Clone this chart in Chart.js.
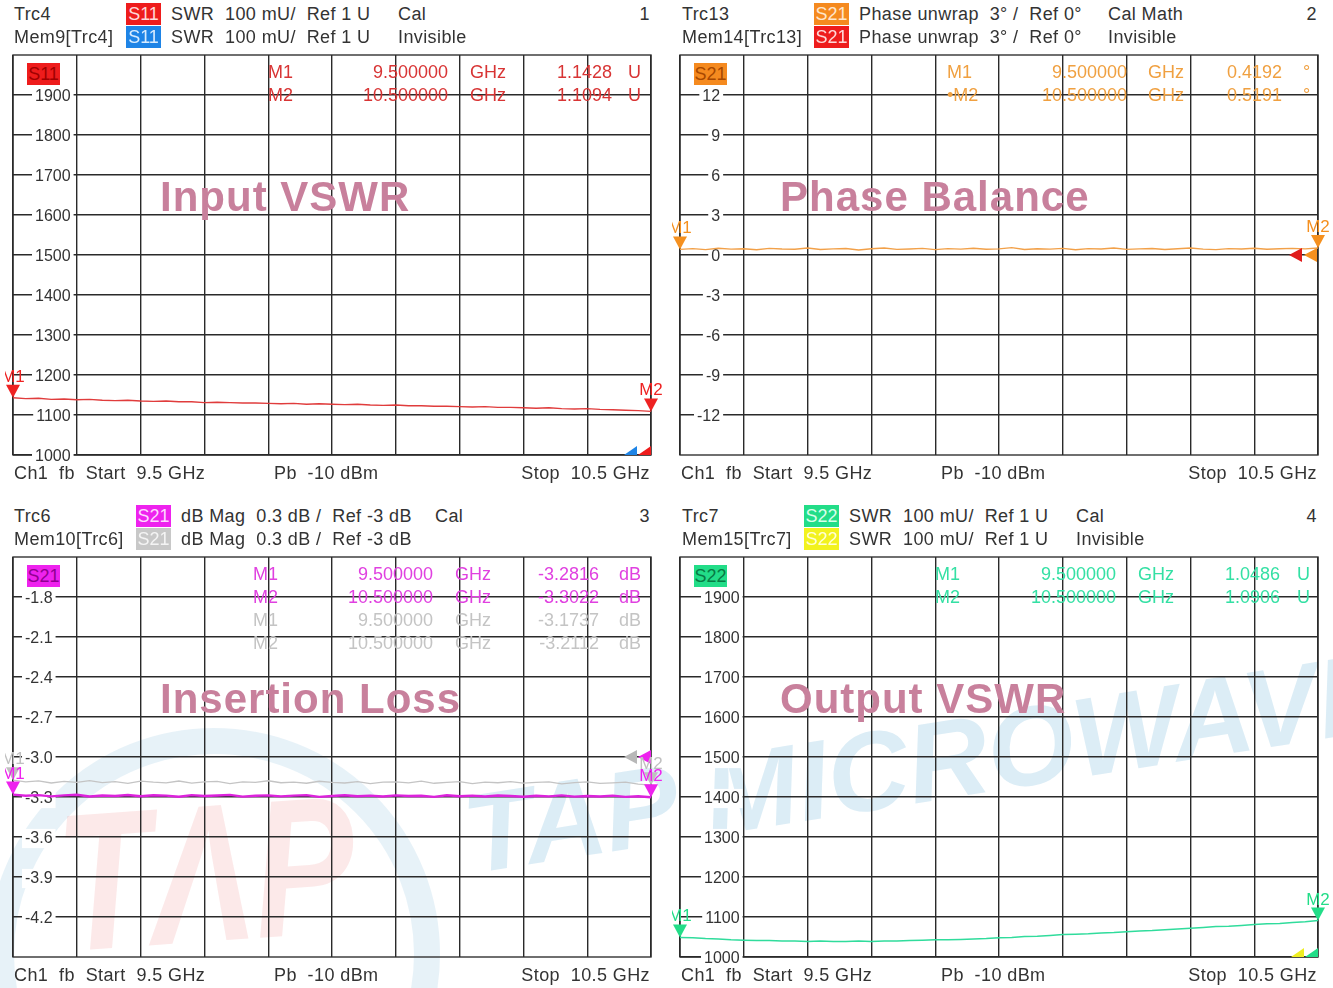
<!DOCTYPE html>
<html>
<head>
<meta charset="utf-8">
<script src="https://cdn.jsdelivr.net/npm/chart.js@4.4.0/dist/chart.umd.min.js"></script>
<style>
  body { margin: 0; background: #fff; font-family: "Liberation Sans", Arial, sans-serif; color: #333; }
  #page { position: relative; width: 1333px; height: 988px; overflow: hidden; background: #fff; }
  .panel { position: absolute; width: 666px; height: 500px; }
  .t { position: absolute; font-size: 18px; line-height: 22px; letter-spacing: 0.4px; white-space: pre; }
  .badge { position: absolute; width: 35px; height: 22px; font-size: 18px; line-height: 22px; text-align: center; }
  .title { position: absolute; font-weight: bold; font-size: 42px; line-height: 50px; letter-spacing: 1px; color: #c8809c; white-space: pre; }
  canvas { position: absolute; left: 0; top: 40px; }
  .wm { position: absolute; white-space: pre; pointer-events: none; }
</style>
</head>
<body>
<div id="page">
  <div class="wm" style="left:-12px;top:728px;width:400px;height:400px;border:26px solid rgba(110,180,215,0.17);border-radius:50%;"></div>
  <div class="wm" style="left:50px;top:772px;font:italic bold 196px 'Liberation Sans';color:rgba(235,110,110,0.15);transform:rotate(-4deg) scaleX(0.78);transform-origin:left top;">TΛP</div>
  <div class="wm" style="left:455px;top:772px;font:italic bold 112px 'Liberation Sans';color:rgba(80,165,210,0.2);transform:rotate(-9deg);transform-origin:left top;">TAP MICROWAVE</div>
</div>
<script>
// === Data ===
const freqs = [9.50, 9.52, 9.54, 9.56, 9.58, 9.60, 9.62, 9.64, 9.66, 9.68,
  9.70, 9.72, 9.74, 9.76, 9.78, 9.80, 9.82, 9.84, 9.86, 9.88,
  9.90, 9.92, 9.94, 9.96, 9.98, 10.00, 10.02, 10.04, 10.06, 10.08,
  10.10, 10.12, 10.14, 10.16, 10.18, 10.20, 10.22, 10.24, 10.26, 10.28,
  10.30, 10.32, 10.34, 10.36, 10.38, 10.40, 10.42, 10.44, 10.46, 10.48, 10.50];

// S11 SWR (mU)
const s11Swr = [1143, 1141, 1142, 1139, 1140, 1138, 1139, 1137, 1136, 1137,
  1135, 1134, 1135, 1133, 1133, 1131, 1132, 1131, 1130, 1130,
  1129, 1128, 1129, 1127, 1128, 1127, 1126, 1127, 1125, 1124,
  1125, 1123, 1123, 1122, 1122, 1121, 1120, 1121, 1119, 1119,
  1118, 1117, 1118, 1116, 1115, 1116, 1114, 1113, 1112, 1111, 1109];

// S21 phase unwrap (deg)
const s21Phase = [0.42, 0.48, 0.40, 0.51, 0.44, 0.47, 0.39, 0.50, 0.45, 0.43,
  0.52, 0.41, 0.46, 0.49, 0.38, 0.47, 0.53, 0.42, 0.45, 0.50,
  0.40, 0.48, 0.44, 0.51, 0.43, 0.46, 0.55, 0.41, 0.47, 0.44,
  0.50, 0.39, 0.48, 0.45, 0.52, 0.42, 0.46, 0.49, 0.41, 0.47,
  0.53, 0.44, 0.40, 0.48, 0.45, 0.51, 0.43, 0.47, 0.50, 0.46, 0.52];

// S21 dB mag, trace and memory
const s21Mag = [-3.282, -3.291, -3.286, -3.295, -3.288, -3.283, -3.296, -3.289, -3.292, -3.285,
  -3.294, -3.287, -3.290, -3.298, -3.286, -3.293, -3.289, -3.284, -3.297, -3.291,
  -3.288, -3.295, -3.290, -3.286, -3.299, -3.292, -3.287, -3.294, -3.290, -3.296,
  -3.288, -3.293, -3.291, -3.299, -3.287, -3.294, -3.290, -3.296, -3.289, -3.293,
  -3.298, -3.291, -3.295, -3.288, -3.297, -3.292, -3.296, -3.290, -3.299, -3.294, -3.302];
const s21MagMem = [-3.174, -3.186, -3.179, -3.195, -3.183, -3.190, -3.177, -3.192, -3.185, -3.198,
  -3.181, -3.189, -3.194, -3.180, -3.196, -3.187, -3.183, -3.199, -3.186, -3.191,
  -3.178, -3.193, -3.188, -3.197, -3.182, -3.190, -3.195, -3.184, -3.200, -3.189,
  -3.186, -3.194, -3.181, -3.197, -3.190, -3.185, -3.199, -3.188, -3.193, -3.184,
  -3.196, -3.191, -3.187, -3.201, -3.192, -3.186, -3.198, -3.194, -3.189, -3.203, -3.211];

// S22 SWR (mU)
const s22Swr = [1049, 1048, 1046, 1045, 1043, 1042, 1041, 1041, 1040, 1040,
  1039, 1040, 1039, 1039, 1040, 1039, 1040, 1040, 1041, 1042,
  1043, 1043, 1044, 1045, 1046, 1048, 1049, 1051, 1052, 1054,
  1056, 1057, 1058, 1060, 1061, 1063, 1065, 1066, 1068, 1070,
  1072, 1074, 1076, 1077, 1079, 1081, 1083, 1084, 1086, 1088, 1091];

// tick labels
const swrTickVals = [1000, 1100, 1200, 1300, 1400, 1500, 1600, 1700, 1800, 1900];
const swrTickLabels = ['1000', '1100', '1200', '1300', '1400', '1500', '1600', '1700', '1800', '1900'];
const phaseTickVals = [-12, -9, -6, -3, 0, 3, 6, 9, 12];
const phaseTickLabels = ['-12', '-9', '-6', '-3', '0', '3', '6', '9', '12'];
const ilTickVals = [-4.2, -3.9, -3.6, -3.3, -3.0, -2.7, -2.4, -2.1, -1.8];
const ilTickLabels = ['-4.2', '-3.9', '-3.6', '-3.3', '-3.0', '-2.7', '-2.4', '-2.1', '-1.8'];

// header texts
const headRows = [
  [['Trc4', 'S11', 'SWR  100 mU/  Ref 1 U', 'Cal', '1'], ['Mem9[Trc4]', 'S11', 'SWR  100 mU/  Ref 1 U', 'Invisible']],
  [['Trc13', 'S21', 'Phase unwrap  3° /  Ref 0°', 'Cal Math', '2'], ['Mem14[Trc13]', 'S21', 'Phase unwrap  3° /  Ref 0°', 'Invisible']],
  [['Trc6', 'S21', 'dB Mag  0.3 dB /  Ref -3 dB', 'Cal', '3'], ['Mem10[Trc6]', 'S21', 'dB Mag  0.3 dB /  Ref -3 dB', '']],
  [['Trc7', 'S22', 'SWR  100 mU/  Ref 1 U', 'Cal', '4'], ['Mem15[Trc7]', 'S22', 'SWR  100 mU/  Ref 1 U', 'Invisible']]
];
// marker readouts
const markerRows = [
  [['M1', '9.500000', 'GHz', '1.1428', 'U'], ['M2', '10.500000', 'GHz', '1.1094', 'U']],
  [['M1', '9.500000', 'GHz', '0.4192', '°'], ['•M2', '10.500000', 'GHz', '0.5191', '°']],
  [['M1', '9.500000', 'GHz', '-3.2816', 'dB'], ['M2', '10.500000', 'GHz', '-3.3022', 'dB'],
   ['M1', '9.500000', 'GHz', '-3.1737', 'dB'], ['M2', '10.500000', 'GHz', '-3.2112', 'dB']],
  [['M1', '9.500000', 'GHz', '1.0486', 'U'], ['M2', '10.500000', 'GHz', '1.0906', 'U']]
];
const titles = ['Input VSWR', 'Phase Balance', 'Insertion Loss', 'Output VSWR'];
const footer = ['Ch1  fb  Start  9.5 GHz', 'Pb  -10 dBm', 'Stop  10.5 GHz'];

// === Layout / styles ===
const origins = [[0, 0], [667, 0], [0, 502], [667, 502]];
const headCols = [
  [14, 126, 171, 398], [15, 147, 192, 441], [14, 136, 181, 435], [15, 137, 182, 409]
];
const markCols = [
  [268, 448, 470, 612, 628], [280, 460, 481, 615, 636], [253, 433, 455, 599, 619], [268, 449, 471, 613, 630]
];
const badgeColors = [
  [['#ee1c1c', '#ffd8d8'], ['#1e84e6', '#d8ecff']],
  [['#f58a1f', '#ffe6cc'], ['#ee1c1c', '#ffd8d8']],
  [['#ee22ee', '#ffd8ff'], ['#c8c8c8', '#f4f4f4']],
  [['#22dd88', '#d8ffe8'], ['#f2f21e', '#ffffd8']]
];
const innerBadge = [['#ee1c1c', '#a00000'], ['#f58a1f', '#a84800'], ['#ee22ee', '#900090'], ['#22dd88', '#087a44']];
const markColors = [['#d83434', '#d83434'], ['#f0a040', '#f0a040'], ['#e040e0', '#e040e0', '#c4c4c4', '#c4c4c4'], ['#34e0a4', '#34e0a4']];
const tickPad = [22, 17, 12, 24];

const page = document.getElementById('page');

function addText(parent, txt, x, y, cls, extra) {
  const d = document.createElement('div');
  d.className = cls;
  d.textContent = txt;
  d.style.left = x + 'px';
  d.style.top = y + 'px';
  if (extra) Object.assign(d.style, extra);
  parent.appendChild(d);
  return d;
}

// axis boxes take no room, so the plot area is exactly the layout padding box
function flat(s) {
  if (s.isHorizontal()) s.height = 0; else s.width = 0;
  s.paddingTop = 0; s.paddingBottom = 0; s.paddingLeft = 0; s.paddingRight = 0;
}

// draws plot frame, reference level arrows and M1/M2 markers
const vnaMarks = {
  id: 'vnaMarks',
  beforeDraw(chart) {
    const { ctx, chartArea: a } = chart;
    ctx.save();
    ctx.strokeStyle = '#333';
    ctx.lineWidth = 1.4;
    ctx.strokeRect(a.left, a.top, a.right - a.left, a.bottom - a.top);
    ctx.restore();
  },
  afterDatasetsDraw(chart) {
    const o = chart.options.plugins.vnaMarks;
    const { ctx, chartArea: a } = chart;
    const ys = chart.scales.y;
    ctx.save();
    o.refs.forEach(r => {
      const py = ys.getPixelForValue(r.value);
      const px = a.right - r.offset;
      ctx.fillStyle = r.color;
      ctx.beginPath();
      if (r.shape === 'corner') {
        ctx.moveTo(px, py); ctx.lineTo(px - 13, py); ctx.lineTo(px, py - 9);
      } else {
        ctx.moveTo(px - 13, py); ctx.lineTo(px, py - 7); ctx.lineTo(px, py + 7);
      }
      ctx.closePath();
      ctx.fill();
    });
    ctx.beginPath();
    ctx.rect(a.left - 8, 0, chart.width, chart.height);
    ctx.clip();
    chart.data.datasets.forEach((ds, i) => {
      const pts = chart.getDatasetMeta(i).data;
      [pts[0], pts[pts.length - 1]].forEach((p, k) => {
        ctx.fillStyle = ds.markColor;
        ctx.beginPath();
        ctx.moveTo(p.x, p.y); ctx.lineTo(p.x - 7, p.y - 13); ctx.lineTo(p.x + 7, p.y - 13);
        ctx.closePath();
        ctx.fill();
        ctx.font = '17px "Liberation Sans", Arial';
        ctx.textAlign = 'center';
        ctx.fillText(k ? 'M2' : 'M1', p.x, p.y - 16);
      });
    });
    ctx.restore();
  }
};

function makeChart(idx, datasets, yMin, yMax, step, tickVals, tickLabels, refs) {
  const [ox, oy] = origins[idx];
  const panel = document.createElement('div');
  panel.className = 'panel';
  panel.style.left = ox + 'px';
  panel.style.top = oy + 'px';
  page.appendChild(panel);

  const cv = document.createElement('canvas');
  cv.width = 666; cv.height = 425;
  panel.appendChild(cv);

  // header
  const hc = headCols[idx];
  headRows[idx].forEach((row, r) => {
    const y = 3 + r * 23;
    addText(panel, row[0], hc[0], y, 't');
    addText(panel, row[1], hc[1], y, 'badge', { background: badgeColors[idx][r][0], color: badgeColors[idx][r][1] });
    addText(panel, row[2], hc[2], y, 't');
    addText(panel, row[3], hc[3], y, 't');
    if (row[4]) addText(panel, row[4], 0, y, 't', { left: 'auto', right: '16px' });
  });

  // inner badge and title
  addText(panel, headRows[idx][0][1], 27, 63, 'badge', { width: '33px', background: innerBadge[idx][0], color: innerBadge[idx][1] });
  addText(panel, titles[idx], idx % 2 ? 113 : 160, 172, 'title');

  // marker readouts
  const mc = markCols[idx];
  markerRows[idx].forEach((row, r) => {
    const y = 61 + r * 23;
    const col = { color: markColors[idx][r], letterSpacing: '0px' };
    addText(panel, row[0], mc[0], y, 't', col);
    addText(panel, row[1], 0, y, 't', Object.assign({ left: 'auto', right: (666 - mc[1]) + 'px' }, col));
    addText(panel, row[2], mc[2], y, 't', col);
    addText(panel, row[3], 0, y, 't', Object.assign({ left: 'auto', right: (666 - mc[3]) + 'px' }, col));
    addText(panel, row[4], mc[4], y, 't', col);
  });

  // footer
  addText(panel, footer[0], 14, 462, 't');
  addText(panel, footer[1], 274, 462, 't');
  addText(panel, footer[2], 0, 462, 't', { left: 'auto', right: '16px' });

  return new Chart(cv, {
    type: 'line',
    data: { datasets },
    options: {
      responsive: false,
      animation: false,
      events: [],
      layout: { padding: { left: 13, right: 15, top: 15, bottom: 10 } },
      plugins: { legend: { display: false }, tooltip: { enabled: false }, vnaMarks: { refs } },
      elements: { point: { radius: 0 }, line: { tension: 0 } },
      scales: {
        x: {
          type: 'linear', min: 9.5, max: 10.5,
          ticks: { display: false, stepSize: 0.1 },
          grid: { color: '#2a2a2a', lineWidth: 1.4, drawTicks: false },
          border: { display: false },
          afterFit: flat
        },
        y: {
          min: yMin, max: yMax,
          ticks: {
            stepSize: step, mirror: true, crossAlign: 'far', padding: tickPad[idx], labelOffset: 1.5,
            color: '#333', font: { family: '"Liberation Sans", Arial', size: 16 },
            showLabelBackdrop: true, backdropColor: '#fff', backdropPadding: { x: 3, y: 0 },
            callback: v => {
              const i = tickVals.findIndex(t => Math.abs(t - v) < 1e-6);
              return i < 0 ? null : tickLabels[i];
            }
          },
          grid: { color: '#2a2a2a', lineWidth: 1.4, drawTicks: false },
          border: { display: false },
          afterFit: flat
        }
      }
    },
    plugins: [vnaMarks]
  });
}

function series(vals, color, width, markColor) {
  return {
    data: freqs.map((f, i) => ({ x: f, y: vals[i] })),
    borderColor: color, borderWidth: width, markColor, pointRadius: 0
  };
}

makeChart(0, [series(s11Swr, '#e03c3c', 1.4, '#ee2222')], 1000, 2000, 100, swrTickVals, swrTickLabels,
  [{ value: 1000, color: '#1e84e6', offset: 14, shape: 'corner' }, { value: 1000, color: '#ee1c1c', offset: 0, shape: 'corner' }]);

makeChart(1, [series(s21Phase, '#f2a048', 1.4, '#f5901f')], -15, 15, 3, phaseTickVals, phaseTickLabels,
  [{ value: 0, color: '#e01c1c', offset: 16, shape: 'left' }, { value: 0, color: '#f5901f', offset: 1, shape: 'left' }]);

makeChart(2, [series(s21MagMem, '#c4c4c4', 1.3, '#c0c0c0'), series(s21Mag, '#dd22dd', 2.4, '#ee22ee')], -4.5, -1.5, 0.3, ilTickVals, ilTickLabels,
  [{ value: -3.0, color: '#b8b8b8', offset: 14, shape: 'left' }, { value: -3.0, color: '#ee22ee', offset: 0, shape: 'left' }]);

makeChart(3, [series(s22Swr, '#30dc9c', 1.5, '#22dd88')], 1000, 2000, 100, swrTickVals, swrTickLabels,
  [{ value: 1000, color: '#eeee22', offset: 14, shape: 'corner' }, { value: 1000, color: '#22dd88', offset: 0, shape: 'corner' }]);
</script>
</body>
</html>
